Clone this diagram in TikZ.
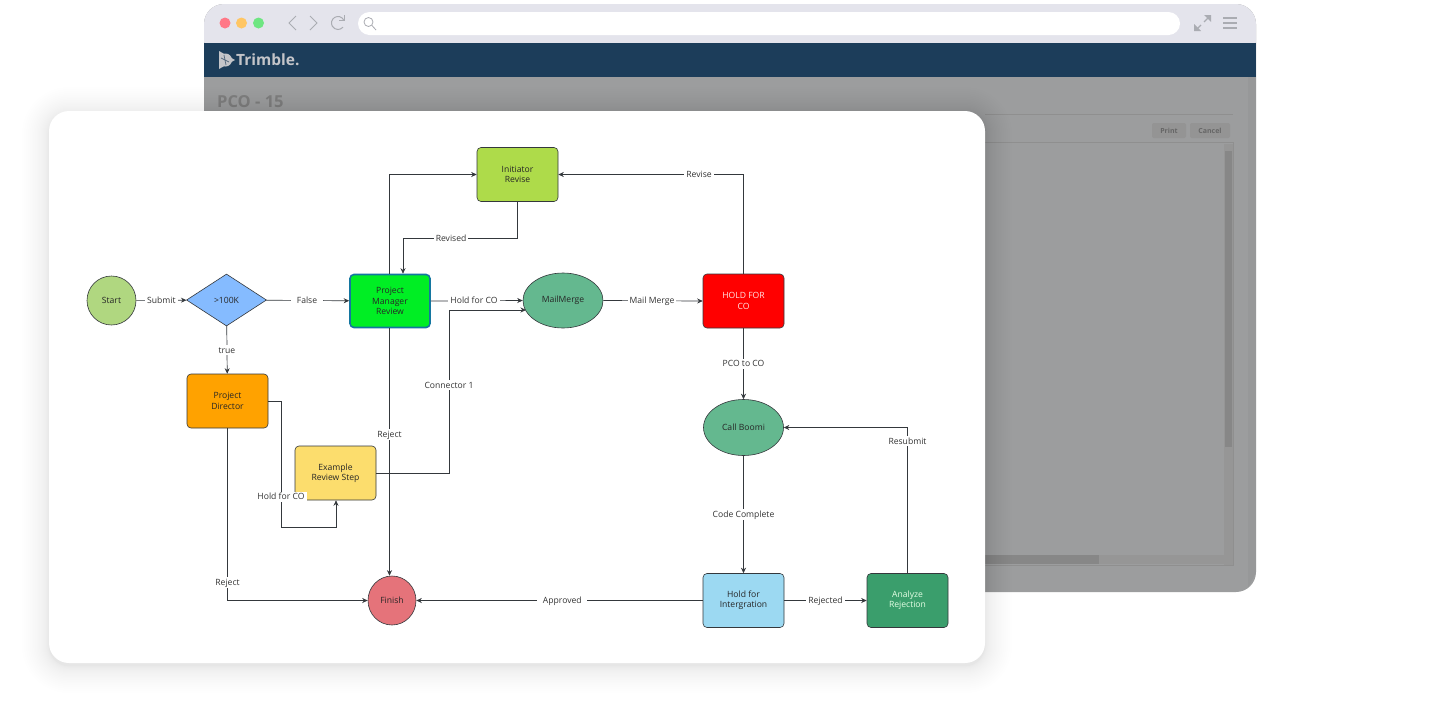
\documentclass[tikz,border=0pt]{standalone}
\usepackage{fontspec}
\setmainfont{Open Sans}
\usepackage{xcolor}
\usetikzlibrary{arrows.meta,positioning,shapes.geometric,calc}
\definecolor{barG}{RGB}{228,228,236}
\definecolor{navB}{RGB}{28,61,90}
\definecolor{bodyG}{RGB}{156,157,158}
\definecolor{iconG}{RGB}{170,172,178}
\definecolor{lineK}{RGB}{52,56,60}
\definecolor{dotR}{RGB}{255,120,135}
\definecolor{dotY}{RGB}{255,198,100}
\definecolor{dotG}{RGB}{110,230,130}
\definecolor{startG}{RGB}{176,215,128}
\definecolor{amountB}{RGB}{133,187,255}
\definecolor{managerG}{RGB}{0,238,36}
\definecolor{managerB}{RGB}{20,118,160}
\definecolor{mergeG}{RGB}{100,184,143}
\definecolor{initiatorG}{RGB}{174,219,74}
\definecolor{directorO}{RGB}{255,162,0}
\definecolor{exampleY}{RGB}{252,221,109}
\definecolor{finishR}{RGB}{229,115,122}
\definecolor{integrationB}{RGB}{156,217,242}
\definecolor{analyzeG}{RGB}{58,158,108}

\begin{document}
\begin{tikzpicture}[
  x=1pt, y=-1pt,
  boxnode/.style={rectangle, rounded corners=4pt, draw=lineK, line width=0.6pt, minimum width=81pt, minimum height=54pt, inner sep=1pt, align=center, font=\fontsize{8.6}{10.4}\selectfont, text=black!85},
  circnode/.style={ellipse, draw=lineK, line width=0.6pt, inner sep=0pt, align=center, font=\fontsize{8.6}{10.4}\selectfont, text=black!85},
  edgelabel/.style={font=\fontsize{8.6}{10.4}\selectfont, fill=white, inner xsep=2pt, inner ysep=1pt, text height=7.4pt, text depth=1pt, text=black!80},
  widelabel/.style={edgelabel, inner xsep=5.5pt},
  flow/.style={->, draw=lineK, line width=0.7pt},
  iconline/.style={draw=iconG, line width=1.2pt},
  chrome/.style={font=\fontsize{7}{8}\bfseries\selectfont, text=black!60},
  >={Stealth[length=5.5pt,width=5pt]}]

  % page
  \fill[white] (0,0) rectangle (1452,713);

  % browser window
  \fill[bodyG, rounded corners=20pt] (204,4) rectangle (1256,592);
  \fill[barG, rounded corners=20pt] (204,4) rectangle (1256,60);
  \fill[navB] (204,43) rectangle (1256,77);
  \fill[black, opacity=0.03] (1248,77) -- (1256,77) -- (1256,572) -- (1248,588) -- cycle;
  \fill[white, rounded corners=11.5pt] (358,12) rectangle (1180,35);

  % window buttons
  \fill[dotR] (225,23) circle (5.5pt);
  \fill[dotY] (241.5,23) circle (5.5pt);
  \fill[dotG] (258.5,23) circle (5.5pt);
  \draw[iconline, line width=1pt] (296,16) -- (289,23) -- (296,30);
  \draw[iconline, line width=1pt] (310,16) -- (317,23) -- (310,30);
  \draw[iconline, line width=1pt] (343.6,19.75) arc (30:320:6.5pt);
  \draw[iconline, line width=1pt] (344,15) -- (344,20) -- (339,20);
  \draw[iconline, line width=0.8pt] (368.5,22) circle (4.5pt);
  \draw[iconline, line width=0.8pt] (372,25.5) -- (376,30);
  \draw[iconline] (1196,30) -- (1201,25);
  \draw[iconline] (1204,22) -- (1209,17);
  \fill[iconG] (1194,31) -- (1194,24) -- (1201,31) -- cycle;
  \fill[iconG] (1211,15) -- (1204,15) -- (1211,22) -- cycle;
  \foreach \y in {18,23,28}
    \draw[iconline] (1223,\y) -- (1237,\y);

  % logo
  \fill[iconG!70!white] (219,51) -- (235,60) -- (219,69) -- cycle;
  \fill[iconG!70!white] (225.5,60) circle (6.5pt);
  \draw[navB!60!iconG, line width=0.7pt] (221,58) -- (229,62) (224,55) -- (226,65);
  \node[font=\fontsize{15.5}{16}\bfseries\selectfont, text=iconG!70!white, anchor=west, inner sep=0pt] (logo) at (236,60) {Trimble.};

  % blurred page behind the card
  \node[font=\fontsize{16.5}{18}\bfseries\selectfont, text=black!50, anchor=west, inner sep=0pt] (title) at (217,102) {PCO - 15};
  \draw[black!44!white, line width=0.8pt] (985,114) -- (1233,114);
  \fill[black!42!white, rounded corners=2pt] (1152,123) rectangle (1186,138);
  \fill[black!42!white, rounded corners=2pt] (1190,123) rectangle (1230,138);
  \node[chrome] (print) at (1169,130.5) {Print};
  \node[chrome] (cancel) at (1210,130.5) {Cancel};
  \draw[black!44!white, line width=0.8pt] (985,142.5) -- (1233,142.5) -- (1233,565) -- (985,565);
  \fill[black!41!white] (1224,144) rectangle (1233,565);
  \fill[black!47!white] (1225,151) rectangle (1232,447);
  \fill[black!41!white] (985,555) rectangle (1233,564);
  \fill[black!47!white] (985,555) rectangle (1099,564);

  % card with its soft shadow
  \foreach \i in {1,...,25} {
    \pgfmathsetmacro\d{27*(\i/25)^2}
    \pgfmathsetmacro\r{20+\d}
    \fill[black, opacity=0.004, rounded corners=\r pt] ({49-\d},{114-\d}) rectangle ({985+\d},{666+\d});
  }
  \fill[white, rounded corners=20pt] (49,111) rectangle (985,663);

  % top row
  \node[circnode, fill=startG, minimum width=49pt, minimum height=49pt] (start) at (111.5,300.5) {Start};
  \node[diamond, draw=lineK, line width=0.6pt, fill=amountB, minimum width=80pt, minimum height=52pt, inner sep=0pt, font=\fontsize{8.6}{10.4}\selectfont, text=black!85] (amount) at (226.5,300) {>100K};
  \node[boxnode, fill=managerG, draw=managerB, line width=1.6pt, minimum width=80pt, minimum height=53pt] (manager) at (390,301) {Project\\Manager\\Review};
  \node[circnode, fill=mergeG, minimum width=80pt, minimum height=55pt] (mailmerge) at (563,300.5) {MailMerge};
  \node[boxnode, fill=red, text=white!90!red] (holdco) at (743.5,301) {HOLD FOR\\CO};

  % upper and lower rows
  \node[boxnode, fill=initiatorG] (initiator) at (517.5,174.5) {Initiator\\Revise};
  \node[boxnode, fill=directorO] (director) at (227.5,401) {Project\\Director};
  \node[boxnode, fill=exampleY] (example) at (335.5,473) {Example\\Review Step};
  \node[circnode, fill=mergeG, minimum width=80pt, minimum height=56pt] (boomi) at (743.5,427.5) {Call Boomi};
  \node[circnode, fill=finishR, minimum width=48pt, minimum height=49pt] (finish) at (392,600.5) {Finish};
  \node[boxnode, fill=integrationB] (integration) at (743.5,600.5) {Hold for\\Intergration};
  \node[boxnode, fill=analyzeG, text=white!90!green] (analyze) at (907.5,600.5) {Analyze\\Rejection};

  % bends
  \coordinate (revisedA) at (517.5,238);
  \coordinate (revisedB) at (403,238);
  \coordinate (connA) at (449,473);
  \coordinate (connB) at (449,310);
  \coordinate (connC) at (526,310);
  \coordinate (holdA) at (281,401);
  \coordinate (holdB) at (281,527);
  \coordinate (holdC) at (336,527);

  % left side
  \draw[flow] (start) -- node[edgelabel, pos=0.5]{Submit} (amount);
  \draw[flow] (amount) -- node[widelabel, pos=0.49]{False} (manager);
  \draw[flow] (amount) -- node[edgelabel, pos=0.5]{true} (director);
  \draw[flow] (director.south) |- node[edgelabel, pos=0.448]{Reject} (finish.west);
  \draw[flow] (director.east) -- (holdA) -- node[edgelabel, pos=0.76]{Hold for CO} (holdB) -- (holdC) -- (example.south-|holdC);

  % middle
  \draw[flow] ([xshift=-0.5pt]manager.north) |- (initiator.west);
  \draw[flow] (initiator.south) -- (revisedA) -- node[edgelabel, pos=0.58]{Revised} (revisedB) -- (manager.north-|revisedB);
  \draw[flow] (manager.east) -- node[edgelabel, pos=0.47]{Hold for CO} (mailmerge.west);
  \draw[flow] (example.east) -- (connA) -- node[edgelabel, pos=0.54]{Connector 1} (connB) -- (connC);
  \draw[flow] (mailmerge.east) -- node[edgelabel, pos=0.49]{Mail Merge} (holdco.west);
  \draw[flow] ([xshift=-0.5pt]manager.south) -- node[edgelabel, pos=0.43]{Reject} ([xshift=-0.5pt]manager.south|-finish.north);

  % right side
  \draw[flow] (holdco.north) |- node[edgelabel, pos=0.62]{Revise} (initiator.east);
  \draw[flow] (holdco) -- node[edgelabel, pos=0.5]{PCO to CO} (boomi);
  \draw[flow] (boomi) -- node[edgelabel, pos=0.5]{Code Complete} (integration);
  \draw[flow] (integration) -- node[edgelabel, pos=0.5]{Rejected} (analyze);
  \draw[flow] (analyze.north) |- node[edgelabel, pos=0.453]{Resubmit} (boomi.east);
  \draw[flow] (integration.west) -- node[widelabel, pos=0.49]{Approved} (finish.east);
\end{tikzpicture}
\end{document}
